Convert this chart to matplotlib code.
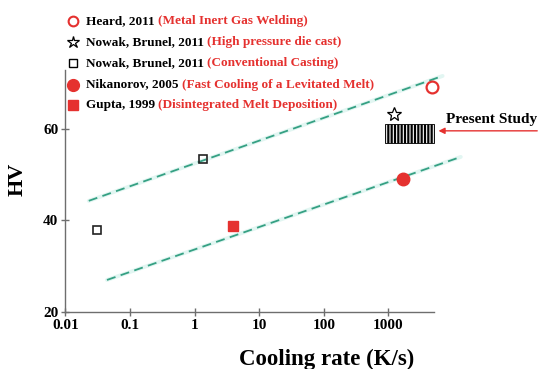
import matplotlib; matplotlib.use("Agg")
import matplotlib.pyplot as plt
from matplotlib.patches import Rectangle

plt.rcParams["font.family"] = ["Liberation Serif", "DejaVu Serif"]
plt.rcParams["font.weight"] = "bold"
plt.rcParams["hatch.linewidth"] = 1.6
plt.rcParams["hatch.color"] = "black"

RED = "#e5312f"
TEAL = "#35a083"
GREY = "#6e6e6e"

# literature points: cooling rate (K/s) vs hardness (HV)
heard_x, heard_y = [4700], [69.2]
nowak_hpdc_x, nowak_hpdc_y = [1200], [63.3]
nowak_cast_x, nowak_cast_y = [0.031, 1.33], [37.9, 53.4]
nikanorov_x, nikanorov_y = [1700], [49.1]
gupta_x, gupta_y = [3.9], [38.8]

# present study range
study_rate = [900, 5000]
study_hv = [57.0, 61.2]

# trend bands
upper_x, upper_y = [0.023, 6900], [44.3, 71.6]
lower_x, lower_y = [0.044, 13200], [27.0, 53.9]

xticks = [0.01, 0.1, 1, 10, 100, 1000]
xticklabels = ["0.01", "0.1", "1", "10", "100", "1000"]
yticks = [20, 40, 60]

legend_rows = [
    ("Heard, 2011 ", "(Metal Inert Gas Welding)", dict(marker="o", mfc="none", mec=RED, ms=7, mew=1.5)),
    ("Nowak, Brunel, 2011 ", "(High pressure die cast)", dict(marker="*", mfc="none", mec="black", ms=9, mew=0.9)),
    ("Nowak, Brunel, 2011 ", "(Conventional Casting)", dict(marker="s", mfc="none", mec="black", ms=5.5, mew=1.0)),
    ("Nikanorov, 2005 ", "(Fast Cooling of a Levitated Melt)", dict(marker="o", mfc=RED, mec=RED, ms=8.5)),
    ("Gupta, 1999 ", "(Disintegrated Melt Deposition)", dict(marker="s", mfc=RED, mec=RED, ms=7)),
]

fig = plt.figure(figsize=(5.4, 3.69), dpi=100)
ax = fig.add_axes([0.1211, 0.1545, 0.8789, 0.8455])
ax.set_xscale("log")
ax.set_xlim(0.01, 10 ** 5.347)
ax.set_ylim(20, 88.2)

for xs, ys in [(upper_x, upper_y), (lower_x, lower_y)]:
    ax.plot(xs, ys, color="#e2f6f2", lw=2.8, solid_capstyle="round", zorder=1)
    ax.plot(xs, ys, color=TEAL, lw=1.3, dashes=(5, 3), zorder=2)

ax.plot(heard_x, heard_y, "o", mfc="none", mec=RED, ms=8.5, mew=1.6, zorder=3)
ax.plot(nowak_hpdc_x, nowak_hpdc_y, "*", mfc="none", mec="black", ms=10.5, mew=0.9, zorder=3)
ax.plot(nowak_cast_x, nowak_cast_y, "s", mfc="none", mec="#222222", ms=6, mew=1.2, zorder=3)
ax.plot(nikanorov_x, nikanorov_y, "o", color=RED, ms=9, zorder=3)
ax.plot(gupta_x, gupta_y, "s", color=RED, ms=7, zorder=3)

ax.add_patch(Rectangle((study_rate[0], study_hv[0]), study_rate[1] - study_rate[0],
                       study_hv[1] - study_hv[0], facecolor="white", edgecolor="black",
                       lw=0.6, hatch="|||||", zorder=3))

ax.annotate("", xy=(5400, 59.6), xycoords="data",
            xytext=(1.0, 59.6), textcoords=("axes fraction", "data"),
            arrowprops=dict(arrowstyle="-|>", color=RED, lw=1.0, mutation_scale=9))
ax.text(7800, 62.0, "Present Study", fontsize=11, fontweight="bold", ha="left", va="center")

# legend block with two-colour entries
row_y = [0.932, 0.865, 0.798, 0.729, 0.663]
for (name, desc, mk), y in zip(legend_rows, row_y):
    ax.plot([0.017], [y], transform=ax.transAxes, clip_on=False, ls="none", **mk)
    t = ax.text(0.043, y, name, transform=ax.transAxes, fontsize=9.5,
                fontweight="bold", color="black", ha="left", va="center")
    ax.annotate(desc, xy=(1, 0), xycoords=t, fontsize=9.5, fontweight="bold",
                color=RED, ha="left", va="bottom")

for side in ["top", "right"]:
    ax.spines[side].set_visible(False)
for side in ["left", "bottom"]:
    ax.spines[side].set_color(GREY)
    ax.spines[side].set_linewidth(1.0)
ax.spines["bottom"].set_bounds(0.01, 5080)
ax.spines["left"].set_bounds(20, 73)

ax.set_xticks(xticks)
ax.set_xticklabels(xticklabels)
ax.xaxis.set_minor_locator(plt.NullLocator())
ax.set_yticks(yticks)
ax.tick_params(direction="inout", length=6, width=1.0, color=GREY,
               labelsize=11, pad=2)
for lab in ax.get_xticklabels() + ax.get_yticklabels():
    lab.set_fontweight("bold")

fig.text(327 / 540, 1 - 359 / 369, "Cooling rate (K/s)", fontsize=16.5,
         fontweight="bold", ha="center", va="center")
fig.text(18 / 540, 1 - 179 / 369, "HV", fontsize=16, fontweight="bold",
         rotation=90, ha="center", va="center")

fig.savefig("out.png", dpi=100)
